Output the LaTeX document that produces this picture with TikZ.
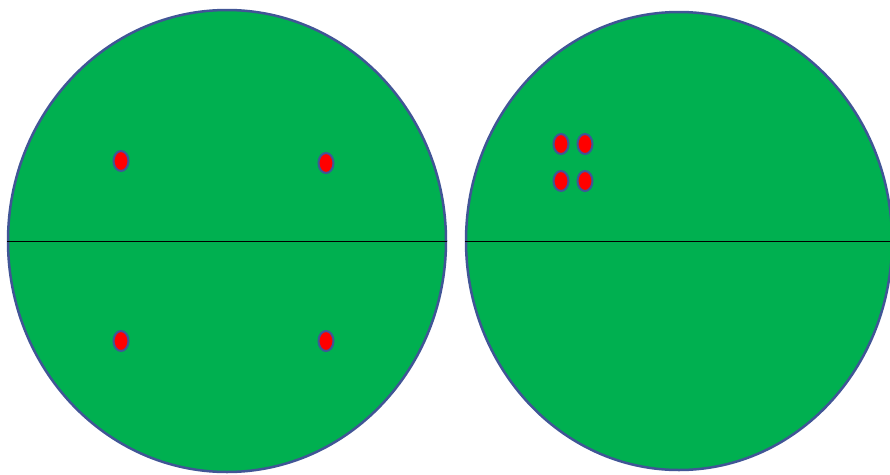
\documentclass[tikz,border=0pt]{standalone}
\usetikzlibrary{shapes.geometric}
\definecolor{disccol}{RGB}{0,176,80}
\definecolor{rimcol}{RGB}{65,85,150}
\tikzset{
  disc/.style={draw=rimcol,line width=2.5pt,fill=disccol,ellipse,inner sep=0pt},
  spot/.style={draw=rimcol,line width=2pt,fill=red,ellipse,inner sep=0pt,minimum width=15pt,minimum height=20pt}
}
\begin{document}
\begin{tikzpicture}[x=1pt,y=-1pt]
	\clip (0,0) rectangle (890,474);
	\fill[white] (0,0) rectangle (890,474);
	\node[disc,minimum width=438pt,minimum height=462pt] (left) at (227,241) {};
	\node[disc,minimum width=426pt,minimum height=458pt] (right) at (679,241) {};
	\draw[line width=1pt] (left.west) -- (left.east);
	\draw[line width=1pt] (right.west) -- (right.east);
	\node[spot] (lta) at (121,161) {};
	\node[spot] (ltb) at (326,163) {};
	\node[spot] (lba) at (121,341) {};
	\node[spot] (lbb) at (326,341) {};
	\node[spot] (rta) at (561,144) {};
	\node[spot] (rtb) at (585,144) {};
	\node[spot] (rba) at (561,181) {};
	\node[spot] (rbb) at (585,181) {};
\end{tikzpicture}
\end{document}
